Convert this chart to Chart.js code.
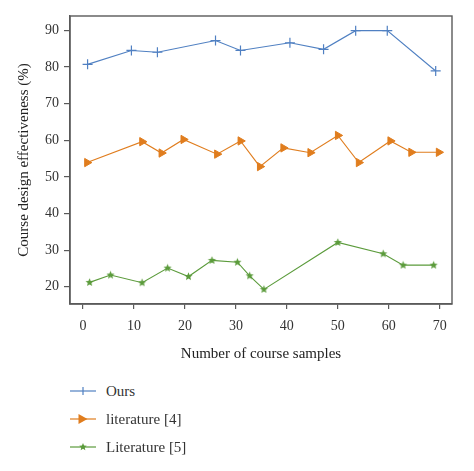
<!DOCTYPE html>
<html>
<head>
<meta charset="utf-8">
<script src="https://cdn.jsdelivr.net/npm/chart.js@4"></script>
<style>
  html, body { margin: 0; padding: 0; background: #fff; }
  #wrap { position: relative; width: 474px; height: 471px; overflow: hidden; }
  #chart { position: absolute; left: 0; top: 0; }
  #legend { position: absolute; left: 70px; top: 380px; font-family: "Liberation Serif", "DejaVu Serif", serif; font-size: 15px; color: #333; }
  .row { position: absolute; left: 0; height: 22px; white-space: nowrap; display: flex; align-items: center; }
  .row canvas { margin-right: 9px; }
</style>
</head>
<body>
<div id="wrap">
  <canvas id="chart" width="474" height="375"></canvas>
  <div id="legend"></div>
</div>
<script>
// ---- data ----
const seriesNames = ["Ours", "literature [4]", "Literature [5]"];

const oursX = [0.9, 9.5, 14.6, 26.0, 30.9, 40.6, 47.2, 53.5, 59.7, 69.2];
const oursY = [80.7, 84.5, 84.0, 87.2, 84.5, 86.6, 84.8, 89.9, 89.9, 78.9];

const lit4X = [0.8, 11.6, 15.4, 19.7, 26.3, 30.9, 34.7, 39.3, 44.6, 50.0, 54.1, 60.3, 64.4, 69.8];
const lit4Y = [53.9, 59.6, 56.5, 60.2, 56.2, 59.8, 52.8, 57.9, 56.6, 61.3, 53.9, 59.8, 56.7, 56.7];

const lit5X = [1.3, 5.4, 11.6, 16.6, 20.7, 25.3, 30.3, 32.7, 35.5, 50.0, 58.9, 62.8, 68.8];
const lit5Y = [21.2, 23.2, 21.1, 25.1, 22.8, 27.2, 26.7, 23.0, 19.3, 32.1, 29.0, 25.9, 25.9];

const xTicks = [0, 10, 20, 30, 40, 50, 60, 70];
const yTicks = [20, 30, 40, 50, 60, 70, 80, 90];

const xTitle = "Number of course samples";
const yTitle = "Course design effectiveness (%)";

// ---- styling ----
const colors = ["#5080c2", "#e07d1e", "#5b9b3b"];
const serif = "'Liberation Serif', 'DejaVu Serif', serif";
const axisGray = "#5a5a5a";

function starImage(color, r) {
  const size = Math.ceil(2 * r + 2);
  const c = document.createElement('canvas');
  c.width = size; c.height = size;
  const g = c.getContext('2d');
  const cx = size / 2, cy = size / 2;
  g.beginPath();
  for (let i = 0; i < 10; i++) {
    const rad = (i % 2 === 0) ? r : r * 0.45;
    const a = -Math.PI / 2 + i * Math.PI / 5;
    const px = cx + rad * Math.cos(a), py = cy + rad * Math.sin(a);
    if (i === 0) g.moveTo(px, py); else g.lineTo(px, py);
  }
  g.closePath();
  g.fillStyle = color;
  g.fill();
  return c;
}
const starImg = starImage(colors[2], 4.3);

const toPts = (xs, ys) => xs.map((x, i) => ({ x: x, y: ys[i] }));

const datasets = [
  {
    label: seriesNames[0], data: toPts(oursX, oursY),
    borderColor: colors[0], backgroundColor: colors[0],
    borderWidth: 1.1, pointStyle: 'cross', pointRadius: 5, pointBorderWidth: 1.2,
    showLine: true, tension: 0
  },
  {
    label: seriesNames[1], data: toPts(lit4X, lit4Y),
    borderColor: colors[1], backgroundColor: colors[1],
    borderWidth: 1.1, pointStyle: 'triangle', pointRotation: 90, pointRadius: 4.8, pointBorderWidth: 1,
    showLine: true, tension: 0
  },
  {
    label: seriesNames[2], data: toPts(lit5X, lit5Y),
    borderColor: colors[2], backgroundColor: colors[2],
    borderWidth: 1.1, pointStyle: starImg, pointRadius: 4.3,
    showLine: true, tension: 0
  }
];

const frame = {
  id: 'frame',
  afterDraw(chart) {
    const a = chart.chartArea, ctx = chart.ctx;
    ctx.save();
    ctx.strokeStyle = axisGray;
    ctx.lineWidth = 1.4;
    ctx.strokeRect(a.left, a.top, a.right - a.left, a.bottom - a.top);
    ctx.restore();
  }
};

new Chart(document.getElementById('chart'), {
  type: 'scatter',
  data: { datasets: datasets },
  options: {
    responsive: false,
    animation: false,
    layout: { padding: { top: 16, right: 22, left: 0, bottom: 0 } },
    plugins: { legend: { display: false }, tooltip: { enabled: false } },
    scales: {
      x: {
        type: 'linear', min: -2.55, max: 72.4,
        afterBuildTicks: s => { s.ticks = xTicks.map(v => ({ value: v })); },
        afterFit: s => { s.height = 71; },
        grid: { display: true, drawOnChartArea: false, drawTicks: true, tickLength: 5, color: axisGray, lineWidth: 1.2 },
        border: { display: true, color: axisGray, width: 1.4 },
        ticks: { color: '#333', font: { family: serif, size: 14 }, padding: 9, maxRotation: 0 },
        title: { display: true, text: xTitle, color: '#222', font: { family: serif, size: 15 }, padding: { top: 0, bottom: 12 } }
      },
      y: {
        type: 'linear', min: 15.3, max: 93.9,
        afterBuildTicks: s => { s.ticks = yTicks.map(v => ({ value: v })); },
        afterFit: s => { s.width = 70; },
        grid: { display: true, drawOnChartArea: false, drawTicks: true, tickLength: 6, color: axisGray, lineWidth: 1.2 },
        border: { display: true, color: axisGray, width: 1.4 },
        ticks: { color: '#333', font: { family: serif, size: 14 }, padding: 5 },
        title: { display: true, text: yTitle, color: '#222', font: { family: serif, size: 15 }, padding: { top: 15, bottom: 0 } }
      }
    }
  },
  plugins: [frame]
});

// ---- HTML legend built from the datasets ----
const legend = document.getElementById('legend');
const rowCenters = [391, 419, 447];
datasets.forEach((ds, i) => {
  const row = document.createElement('div');
  row.className = 'row';
  row.style.top = (rowCenters[i] - 380 - 11) + 'px';
  const c = document.createElement('canvas');
  c.width = 27; c.height = 16;
  const g = c.getContext('2d');
  g.strokeStyle = ds.borderColor; g.lineWidth = 1.2;
  g.beginPath(); g.moveTo(0, 8); g.lineTo(26, 8); g.stroke();
  g.fillStyle = ds.backgroundColor;
  if (i === 0) {
    g.beginPath(); g.moveTo(13, 4); g.lineTo(13, 12); g.stroke();
  } else if (i === 1) {
    g.beginPath(); g.moveTo(8.5, 3); g.lineTo(17.5, 8); g.lineTo(8.5, 13); g.closePath(); g.fill();
  } else {
    g.drawImage(starImage(ds.backgroundColor, 4), 13 - 5, 8 - 5);
  }
  row.appendChild(c);
  const t = document.createElement('span');
  t.textContent = ds.label;
  row.appendChild(t);
  legend.appendChild(row);
});
</script>
</body>
</html>
